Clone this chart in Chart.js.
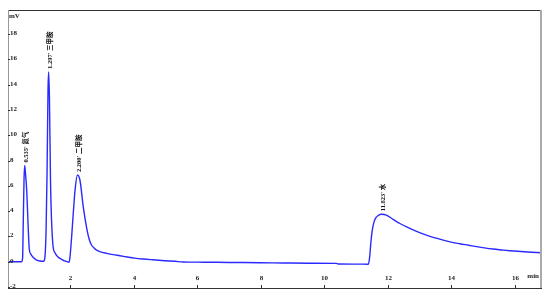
<!DOCTYPE html>
<html><head><meta charset="utf-8">
<script src="https://cdn.jsdelivr.net/npm/chart.js@4/dist/chart.umd.min.js"></script>
<style>html,body{margin:0;padding:0;background:#fff;}#wrap{width:553px;height:306px;}</style>
</head><body><div id="wrap"><canvas id="c" width="553" height="306"></canvas></div>
<script>
const time = [0.04,0.47,0.50,0.52,0.545,0.565,0.59,0.63,0.67,0.71,0.76,0.83,0.93,1.05,1.16,1.20,1.24,1.27,1.30,1.32,1.345,1.38,1.41,1.46,1.52,1.57,1.65,1.73,1.82,1.90,1.96,1.99,2.04,2.09,2.15,2.23,2.31,2.41,2.52,2.60,2.67,2.75,2.83,2.98,3.15,3.35,3.57,3.80,4.03,4.30,4.60,4.98,5.30,5.56,6.20,7.00,7.97,8.70,9.50,10.38,10.44,11.00,11.39,11.43,11.47,11.51,11.56,11.62,11.70,11.81,11.96,12.17,12.40,12.70,12.95,13.22,13.50,13.75,14.00,14.27,14.55,14.80,15.05,15.32,15.60,15.85,16.10,16.40,16.83];
const signal = [0,0,0.3,3.0,6.5,7.6,7.0,5.6,3.1,1.0,0.6,0.35,0.15,0.05,0.03,0.3,2.5,7.0,13.5,15.0,13.0,6.2,3.4,1.2,0.7,0.5,0.3,0.19,0.07,0.0,-0.05,0.3,1.8,3.6,5.6,6.85,6.4,4.35,2.64,1.75,1.32,1.08,0.92,0.76,0.66,0.56,0.47,0.37,0.28,0.21,0.15,0.08,0.03,-0.02,-0.04,-0.06,-0.08,-0.1,-0.12,-0.13,-0.18,-0.19,-0.2,0.3,1.5,2.4,3.05,3.45,3.65,3.75,3.68,3.35,3.0,2.64,2.35,2.1,1.88,1.7,1.55,1.42,1.3,1.19,1.09,1.0,0.93,0.87,0.82,0.77,0.71];
const xTicks = [2,4,6,8,10,12,14,16];
const yTicks = [-2,0,2,4,6,8,10,12,14,16,18];
const peakTimes = [0.565,1.32,2.23,11.81];
const peakHeights = [7.6,15.0,6.85,3.75];
const peakLabels = ["0.535' 氮气","1.297' 三甲胺","2.200' 二甲胺","11.823' 水"];
const yUnit = "mV";
const xUnit = "min";

const FONT = 'bold 7px "Liberation Serif", "Noto Sans CJK SC", serif';
const LFONT = 'bold 6.5px "Liberation Serif", "Noto Sans CJK SC", serif';

const decor = {
  id: 'decor',
  afterDatasetsDraw(chart) {
    const ctx = chart.ctx, a = chart.chartArea;
    const xs = chart.scales.x, ys = chart.scales.y;
    ctx.save();
    // frame
    ctx.lineWidth = 1.2;
    ctx.strokeStyle = '#333';
    ctx.beginPath(); ctx.moveTo(a.left, a.top + 0.5); ctx.lineTo(a.right, a.top + 0.5); ctx.stroke();
    ctx.beginPath(); ctx.moveTo(a.left, a.bottom + 0.5); ctx.lineTo(a.right + 1, a.bottom + 0.5); ctx.stroke();
    ctx.strokeStyle = '#999';
    ctx.lineWidth = 1;
    ctx.beginPath(); ctx.moveTo(a.left + 0.5, a.top); ctx.lineTo(a.left + 0.5, a.bottom); ctx.stroke();
    ctx.strokeStyle = '#aaa';
    ctx.lineWidth = 2;
    ctx.beginPath(); ctx.moveTo(a.right, a.top); ctx.lineTo(a.right, a.bottom); ctx.stroke();
    // ticks
    ctx.fillStyle = '#222';
    ctx.strokeStyle = '#333';
    ctx.lineWidth = 1;
    ctx.font = FONT;
    ctx.textAlign = 'left'; ctx.textBaseline = 'middle';
    yTicks.forEach(v => {
      const y = Math.round(ys.getPixelForValue(v)) + 0.5;
      ctx.beginPath(); ctx.moveTo(a.left, y); ctx.lineTo(a.left + 2, y); ctx.stroke();
      ctx.fillText(String(v), a.left + 2, y - 1.5);
    });
    ctx.textAlign = 'center';
    xTicks.forEach(v => {
      const x = Math.round(xs.getPixelForValue(v)) + 0.5;
      ctx.beginPath(); ctx.moveTo(x, a.bottom - 3); ctx.lineTo(x, a.bottom + 1); ctx.stroke();
      ctx.fillText(String(v), x, a.bottom - 10);
    });
    ctx.textAlign = 'left';
    ctx.fillText(yUnit, a.left + 1, a.top + 6);
    ctx.textAlign = 'right';
    ctx.fillText(xUnit, a.right - 2, a.bottom - 12);
    // peak labels
    ctx.font = LFONT;
    ctx.fillStyle = '#111';
    peakTimes.forEach((t, i) => {
      const x = xs.getPixelForValue(t) + 1.5;
      const y = ys.getPixelForValue(peakHeights[i]) - 3;
      ctx.save();
      ctx.translate(x, y);
      ctx.rotate(-Math.PI / 2);
      ctx.textAlign = 'left'; ctx.textBaseline = 'middle';
      ctx.fillText(peakLabels[i], 0, 0);
      ctx.restore();
    });
    ctx.restore();
  }
};

new Chart(document.getElementById('c'), {
  type: 'line',
  data: {
    datasets: [{
      data: time.map((t, i) => ({x: t, y: signal[i]})),
      borderColor: '#2a2aff',
      borderWidth: 1.4,
      pointRadius: 0,
      cubicInterpolationMode: 'monotone',
      fill: false
    }]
  },
  options: {
    responsive: false,
    devicePixelRatio: 1,
    animation: false,
    layout: { padding: { left: 8, top: 10, right: 12, bottom: 18 } },
    plugins: { legend: { display: false }, tooltip: { enabled: false } },
    scales: {
      x: { type: 'linear', min: 0.04, max: 16.83, display: false },
      y: { type: 'linear', min: -2.08, max: 19.9, display: false }
    }
  },
  plugins: [decor]
});
</script></body></html>
